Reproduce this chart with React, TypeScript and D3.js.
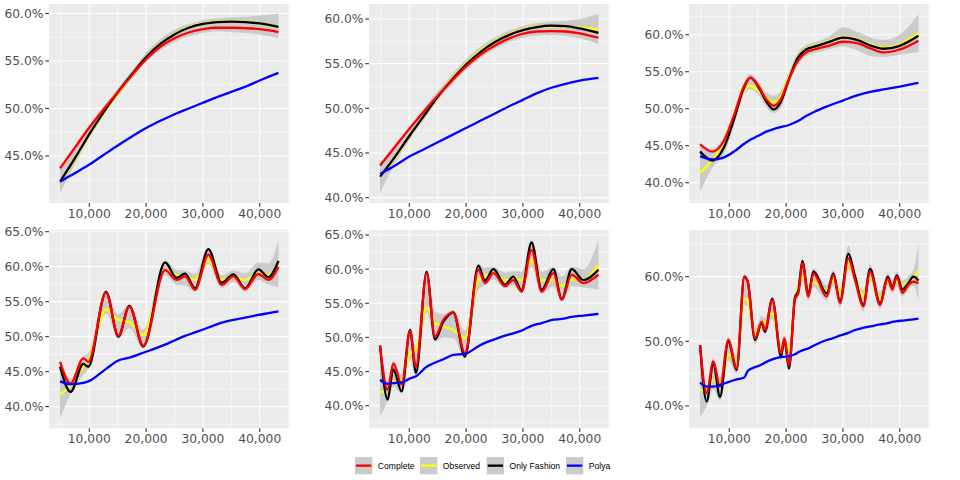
import React from 'react';
import * as d3 from 'd3';

const xTicks = [10000, 20000, 30000, 40000];
const xMinorTicks = [5000, 15000, 25000, 35000, 45000];
const xDomain: [number, number] = [2900, 45210];

const seriesNames = ['Complete', 'Observed', 'Only Fashion', 'Polya'];
const seriesColors = ['#FF0000', '#FFFF00', '#000000', '#0000FF'];

// panel 1
const p1X = [4850, 7500, 10000, 12500, 15000, 17500, 20000, 22500, 25000, 27500, 30000, 32500, 35000, 37500, 40000, 43300];
const p1Complete = [43.7, 45.9, 48.0, 49.9, 51.7, 53.5, 55.2, 56.5, 57.4, 58.0, 58.35, 58.5, 58.5, 58.45, 58.35, 58.05];
const p1Observed = [42.3, 44.7, 47.2, 49.5, 51.6, 53.5, 55.35, 56.8, 57.85, 58.55, 58.95, 59.15, 59.2, 59.1, 58.95, 58.6];
const p1OnlyFashion = [42.3, 44.8, 47.3, 49.6, 51.7, 53.6, 55.4, 56.8, 57.8, 58.5, 58.9, 59.1, 59.15, 59.1, 58.95, 58.6];
const p1Polya = [42.3, 43.2, 44.1, 45.1, 46.1, 47.05, 47.95, 48.7, 49.4, 50.0, 50.6, 51.2, 51.75, 52.3, 52.95, 53.75];
const p1BandHigh = [43.9, 46.2, 48.3, 50.2, 52.1, 54.0, 55.9, 57.3, 58.3, 58.9, 59.3, 59.5, 59.6, 59.65, 59.8, 60.0];
const p1BandLow = [41.1, 44.2, 46.9, 49.3, 51.3, 53.1, 54.9, 56.1, 57.0, 57.6, 57.95, 58.1, 58.05, 57.95, 57.8, 57.4];
const p1YTicks = [45, 50, 55, 60];
const p1YDomain: [number, number] = [40.05, 61.0];

// panel 2
const p2X = [4850, 7500, 10000, 12500, 15000, 17500, 20000, 22500, 25000, 27500, 30000, 32500, 35000, 37500, 40000, 43300];
const p2Complete = [43.6, 45.7, 47.7, 49.6, 51.4, 53.1, 54.7, 56.0, 57.0, 57.8, 58.35, 58.6, 58.65, 58.6, 58.4, 57.9];
const p2Observed = [42.3, 44.5, 46.8, 49.1, 51.3, 53.3, 55.0, 56.45, 57.5, 58.3, 58.85, 59.15, 59.2, 59.15, 59.05, 58.85];
const p2OnlyFashion = [42.35, 44.6, 46.9, 49.1, 51.3, 53.2, 54.9, 56.3, 57.4, 58.2, 58.75, 59.1, 59.25, 59.2, 58.95, 58.45];
const p2Polya = [42.65, 43.6, 44.6, 45.4, 46.2, 47.0, 47.8, 48.6, 49.4, 50.2, 50.95, 51.7, 52.3, 52.75, 53.1, 53.4];
const p2BandHigh = [43.9, 46.0, 48.0, 50.0, 51.9, 53.8, 55.5, 56.9, 57.9, 58.7, 59.2, 59.55, 59.7, 59.8, 60.0, 60.6];
const p2BandLow = [40.5, 43.9, 46.4, 48.7, 50.9, 52.7, 54.3, 55.6, 56.6, 57.4, 57.9, 58.15, 58.2, 58.1, 57.85, 57.2];
const p2YTicks = [40, 45, 50, 55, 60];
const p2YDomain: [number, number] = [39.4, 61.68];

// panel 3
const p3X = [4850, 7000, 9000, 11000, 12500, 13700, 15000, 16500, 17800, 19000, 20500, 22000, 23500, 25000, 27500, 30000, 32500, 35000, 37200, 40000, 43300];
const p3Complete = [45.2, 44.2, 45.6, 49.5, 52.9, 54.2, 53.2, 51.3, 50.4, 51.2, 54.0, 56.4, 57.6, 58.0, 58.5, 59.05, 58.85, 58.1, 57.6, 58.0, 59.2];
const p3Observed = [41.3, 43.1, 45.5, 49.5, 52.3, 53.1, 52.5, 51.5, 50.9, 51.6, 54.3, 56.8, 58.1, 58.5, 59.1, 59.75, 59.4, 58.6, 58.25, 58.7, 60.2];
const p3OnlyFashion = [44.2, 43.0, 44.7, 49.0, 52.7, 54.2, 53.1, 51.0, 49.9, 50.8, 54.0, 56.8, 58.0, 58.4, 59.0, 59.6, 59.3, 58.5, 58.1, 58.5, 59.85];
const p3Polya = [43.6, 43.15, 43.4, 44.3, 45.2, 45.8, 46.3, 46.9, 47.25, 47.5, 47.8, 48.3, 49.0, 49.6, 50.4, 51.1, 51.8, 52.3, 52.6, 53.0, 53.5];
const p3BandHigh = [45.4, 44.6, 46.2, 50.0, 53.4, 54.7, 53.8, 52.2, 51.8, 52.3, 55.0, 57.5, 58.6, 59.0, 59.7, 61.0, 60.4, 59.6, 59.3, 60.0, 62.8];
const p3BandLow = [38.8, 42.0, 43.8, 48.2, 52.0, 52.6, 52.0, 50.2, 49.4, 50.0, 53.2, 55.8, 57.1, 57.5, 58.0, 58.4, 57.9, 57.1, 57.0, 57.3, 57.6];
const p3YTicks = [40, 45, 50, 55, 60];
const p3YDomain: [number, number] = [37.26, 64.15];

// panel 4
const p4X = [4850, 6710, 8940, 9820, 12940, 15110, 17050, 19510, 23330, 25380, 26850, 28610, 30960, 33310, 35370, 37420, 39770, 41530, 43300];
const p4Complete = [46.4, 43.3, 46.9, 46.4, 56.3, 50.1, 54.3, 48.7, 59.5, 58.1, 58.6, 56.7, 61.7, 57.4, 58.6, 56.8, 58.95, 58.1, 60.0];
const p4Observed = [41.7, 43.1, 45.7, 46.6, 53.9, 52.4, 52.1, 50.2, 59.5, 58.8, 58.6, 58.1, 60.95, 58.1, 58.5, 58.1, 59.05, 58.8, 60.2];
const p4OnlyFashion = [45.7, 42.1, 46.1, 45.7, 56.4, 50.0, 54.4, 48.6, 60.6, 58.4, 59.0, 56.9, 62.5, 57.7, 58.9, 56.9, 59.6, 58.5, 60.8];
const p4Polya = [43.6, 43.2, 43.4, 43.6, 45.4, 46.6, 47.0, 47.7, 48.85, 49.6, 50.1, 50.6, 51.3, 52.0, 52.4, 52.7, 53.1, 53.35, 53.6];
const p4BandHigh = [46.7, 44.0, 47.2, 47.6, 56.7, 53.2, 54.6, 51.0, 60.9, 59.5, 59.4, 59.0, 62.7, 58.8, 59.5, 59.05, 60.6, 60.5, 63.7];
const p4BandLow = [38.3, 41.8, 44.6, 45.3, 53.3, 49.8, 51.2, 48.3, 58.8, 57.4, 57.3, 56.4, 60.4, 56.9, 57.8, 56.4, 58.1, 57.4, 57.1];
const p4YTicks = [40, 45, 50, 55, 60, 65];
const p4YDomain: [number, number] = [36.9, 65.24];

// panel 5
const p5X = [4850, 6180, 7180, 8650, 10120, 11170, 13050, 14520, 16000, 17750, 19800, 22150, 23330, 24800, 26850, 28300, 29760, 31520, 33310, 35370, 36830, 38600, 40650, 43300];
const p5Complete = [48.8, 42.3, 46.2, 43.1, 50.9, 45.7, 59.4, 50.1, 52.6, 53.6, 47.7, 59.9, 57.95, 59.4, 57.5, 58.4, 56.7, 62.8, 56.7, 59.4, 55.5, 59.2, 57.95, 59.2];
const p5Observed = [41.9, 42.3, 43.55, 43.8, 47.7, 48.2, 54.4, 52.1, 51.6, 51.1, 49.9, 58.4, 59.0, 59.4, 58.4, 58.7, 58.4, 61.4, 58.4, 58.4, 57.5, 58.5, 58.5, 60.6];
const p5OnlyFashion = [48.8, 40.9, 45.3, 42.1, 51.1, 44.8, 59.6, 49.7, 52.3, 53.65, 47.2, 60.5, 58.3, 60.0, 57.7, 58.9, 56.9, 63.9, 57.0, 60.0, 55.6, 60.0, 58.4, 59.9];
const p5Polya = [43.8, 43.2, 43.3, 43.4, 44.0, 44.3, 45.7, 46.3, 46.8, 47.45, 47.6, 48.7, 49.2, 49.65, 50.25, 50.6, 51.0, 51.7, 52.1, 52.6, 52.7, 53.0, 53.2, 53.45];
const p5BandHigh = [49.1, 43.8, 46.6, 44.5, 51.4, 48.6, 59.9, 53.8, 53.4, 54.0, 51.0, 60.8, 60.2, 60.3, 59.5, 59.7, 59.6, 64.2, 59.6, 60.3, 58.9, 60.3, 60.0, 64.3];
const p5BandLow = [38.4, 40.6, 42.8, 41.8, 46.8, 44.4, 53.6, 49.4, 50.0, 49.9, 46.9, 57.0, 57.6, 58.5, 57.2, 57.6, 56.5, 60.3, 56.4, 57.5, 55.3, 57.5, 57.3, 57.0];
const p5YTicks = [40, 45, 50, 55, 60, 65];
const p5YDomain: [number, number] = [36.69, 65.73];

// panel 6
const p6X = [4850, 6010, 7180, 8360, 9820, 11290, 12640, 13230, 14520, 15700, 16280, 17570, 19100, 19690, 20510, 21570, 22150, 22860, 23920, 24800, 27150, 28320, 29490, 30960, 32140, 33610, 34780, 36540, 37890, 38710, 39480, 40480, 41530, 42410, 43300];
const p6Complete = [49.4, 42.0, 46.9, 43.0, 50.2, 45.8, 59.9, 59.2, 50.5, 53.0, 51.75, 56.4, 48.1, 50.5, 46.3, 56.6, 57.4, 62.1, 56.9, 60.5, 56.9, 60.3, 55.9, 62.8, 59.5, 55.4, 60.8, 55.6, 59.7, 58.0, 60.0, 57.5, 58.7, 59.2, 59.0];
const p6Observed = [42.7, 42.1, 44.0, 43.5, 47.9, 47.1, 56.6, 56.3, 51.0, 52.5, 52.8, 54.3, 48.7, 50.0, 48.7, 56.6, 58.5, 60.0, 58.2, 59.2, 57.9, 59.4, 57.4, 61.8, 59.8, 57.0, 60.0, 56.6, 59.2, 58.7, 59.2, 58.7, 59.2, 59.85, 60.9];
const p6OnlyFashion = [49.4, 40.7, 46.5, 41.4, 50.0, 45.6, 60.0, 59.3, 50.2, 52.8, 51.5, 56.6, 47.6, 50.3, 45.8, 56.8, 57.8, 62.4, 57.2, 60.8, 57.4, 60.5, 56.1, 63.5, 60.0, 55.6, 61.2, 55.8, 60.0, 58.3, 60.2, 58.0, 59.0, 60.0, 59.4];
const p6Polya = [43.6, 43.0, 43.0, 43.25, 43.7, 44.1, 44.4, 45.4, 46.0, 46.4, 46.7, 47.2, 47.55, 47.6, 47.7, 48.0, 48.3, 48.6, 48.9, 49.3, 50.2, 50.5, 50.9, 51.3, 51.75, 52.1, 52.3, 52.6, 52.8, 53.0, 53.1, 53.2, 53.3, 53.4, 53.5];
const p6BandHigh = [49.7, 43.0, 47.4, 44.3, 50.7, 47.8, 60.4, 59.7, 52.0, 53.9, 53.6, 56.9, 49.6, 50.9, 49.4, 57.4, 59.2, 62.9, 58.9, 61.3, 58.7, 61.0, 58.2, 64.8, 60.8, 58.0, 61.9, 57.6, 60.6, 59.5, 60.8, 59.4, 60.1, 61.0, 65.2];
const p6BandLow = [38.2, 40.0, 42.6, 40.8, 47.0, 45.0, 55.6, 55.4, 49.6, 51.7, 51.0, 53.4, 47.0, 49.0, 45.2, 55.8, 56.8, 59.3, 56.3, 58.4, 56.3, 58.6, 55.2, 61.2, 58.6, 54.6, 59.3, 55.0, 58.5, 57.4, 58.5, 56.9, 58.0, 58.6, 56.2];
const p6YTicks = [40, 50, 60];
const p6YDomain: [number, number] = [36.55, 67.2];

interface PanelData {
  x: number[];
  series: number[][]; // complete, observed, only fashion, polya
  low: number[];
  high: number[];
  yTicks: number[];
  yDomain: [number, number];
}

const panels: PanelData[] = [
  { x: p1X, series: [p1Complete, p1Observed, p1OnlyFashion, p1Polya], low: p1BandLow, high: p1BandHigh, yTicks: p1YTicks, yDomain: p1YDomain },
  { x: p2X, series: [p2Complete, p2Observed, p2OnlyFashion, p2Polya], low: p2BandLow, high: p2BandHigh, yTicks: p2YTicks, yDomain: p2YDomain },
  { x: p3X, series: [p3Complete, p3Observed, p3OnlyFashion, p3Polya], low: p3BandLow, high: p3BandHigh, yTicks: p3YTicks, yDomain: p3YDomain },
  { x: p4X, series: [p4Complete, p4Observed, p4OnlyFashion, p4Polya], low: p4BandLow, high: p4BandHigh, yTicks: p4YTicks, yDomain: p4YDomain },
  { x: p5X, series: [p5Complete, p5Observed, p5OnlyFashion, p5Polya], low: p5BandLow, high: p5BandHigh, yTicks: p5YTicks, yDomain: p5YDomain },
  { x: p6X, series: [p6Complete, p6Observed, p6OnlyFashion, p6Polya], low: p6BandLow, high: p6BandHigh, yTicks: p6YTicks, yDomain: p6YDomain },
];

// draw order: observed, only fashion, complete, polya
const drawOrder = [1, 2, 0, 3];

const axisFont = '"DejaVu Sans", sans-serif';
const fmtX = d3.format(',');

const Panel: React.FC<{ p: PanelData; col: number; row: number }> = ({ p, col, row }) => {
  const left = 49 + col * 320;
  const right = left + 240.3;
  const top = row === 0 ? 4 : 230;
  const bottom = row === 0 ? 203 : 428.3;

  const x = d3.scaleLinear().domain(xDomain).range([left, right]);
  const y = d3.scaleLinear().domain(p.yDomain).range([bottom, top]);

  const step = p.yTicks[1] - p.yTicks[0];
  const yMinor = d3
    .range(p.yTicks[0] - step / 2, p.yDomain[1], step)
    .filter((v) => v > p.yDomain[0] && v < p.yDomain[1]);

  const line = d3
    .line<number>()
    .x((_, i) => x(p.x[i]))
    .y((d) => y(d))
    .curve(d3.curveMonotoneX);

  const band = d3
    .area<number>()
    .x((d) => x(d))
    .y0((_, i) => y(p.low[i]))
    .y1((_, i) => y(p.high[i]))
    .curve(d3.curveMonotoneX);

  return (
    <g>
      <rect x={left} y={top} width={right - left} height={bottom - top} fill="#EBEBEB" />
      {yMinor.map((v) => (
        <line key={'ym' + v} x1={left} x2={right} y1={y(v)} y2={y(v)} stroke="#fff" strokeWidth={0.55} />
      ))}
      {xMinorTicks.map((v) => (
        <line key={'xm' + v} x1={x(v)} x2={x(v)} y1={top} y2={bottom} stroke="#fff" strokeWidth={0.55} />
      ))}
      {p.yTicks.map((v) => (
        <line key={'yM' + v} x1={left} x2={right} y1={y(v)} y2={y(v)} stroke="#fff" strokeWidth={1.1} />
      ))}
      {xTicks.map((v) => (
        <line key={'xM' + v} x1={x(v)} x2={x(v)} y1={top} y2={bottom} stroke="#fff" strokeWidth={1.1} />
      ))}

      <path d={band(p.x) || ''} fill="#CBCBCB" />

      {drawOrder.map((si) => (
        <path
          key={'s' + si}
          d={line(p.series[si]) || ''}
          fill="none"
          stroke={seriesColors[si]}
          strokeWidth={2.3}
          strokeLinejoin="round"
        />
      ))}

      {p.yTicks.map((v) => (
        <g key={'yt' + v}>
          <line x1={left - 3.7} x2={left} y1={y(v)} y2={y(v)} stroke="#333" strokeWidth={1.1} />
          <text
            x={left - 5.5}
            y={y(v)}
            dy="0.36em"
            textAnchor="end"
            fontFamily={axisFont}
            fontSize={12.3}
            fill="#4D4D4D"
          >
            {v.toFixed(1) + '%'}
          </text>
        </g>
      ))}
      {xTicks.map((v) => (
        <g key={'xt' + v}>
          <line x1={x(v)} x2={x(v)} y1={bottom} y2={bottom + 3.7} stroke="#333" strokeWidth={1.1} />
          <text
            x={x(v)}
            y={bottom + 14.8}
            textAnchor="middle"
            fontFamily={axisFont}
            fontSize={12.3}
            fill="#4D4D4D"
          >
            {fmtX(v)}
          </text>
        </g>
      ))}
    </g>
  );
};

const legendKeyX = [355, 420, 486.7, 566];

const Legend: React.FC = () => (
  <g>
    {seriesNames.map((name, i) => (
      <g key={name} transform={`translate(${legendKeyX[i]},457)`}>
        <rect width={17.3} height={17.3} fill="#CBCBCB" />
        <line x1={1} x2={16.3} y1={8.65} y2={8.65} stroke={seriesColors[i]} strokeWidth={2.3} />
        <text x={22.8} y={12} fontFamily='"Liberation Sans", Arial, sans-serif' fontSize={8.6} fill="#000">
          {name}
        </text>
      </g>
    ))}
  </g>
);

export default function App() {
  return (
    <svg
      width={960}
      height={480}
      style={{ position: 'absolute', left: 0, top: 0, background: '#fff' }}
    >
      <rect width={960} height={480} fill="#fff" />
      {panels.map((p, i) => (
        <Panel key={i} p={p} col={i % 3} row={Math.floor(i / 3)} />
      ))}
      <Legend />
    </svg>
  );
}
